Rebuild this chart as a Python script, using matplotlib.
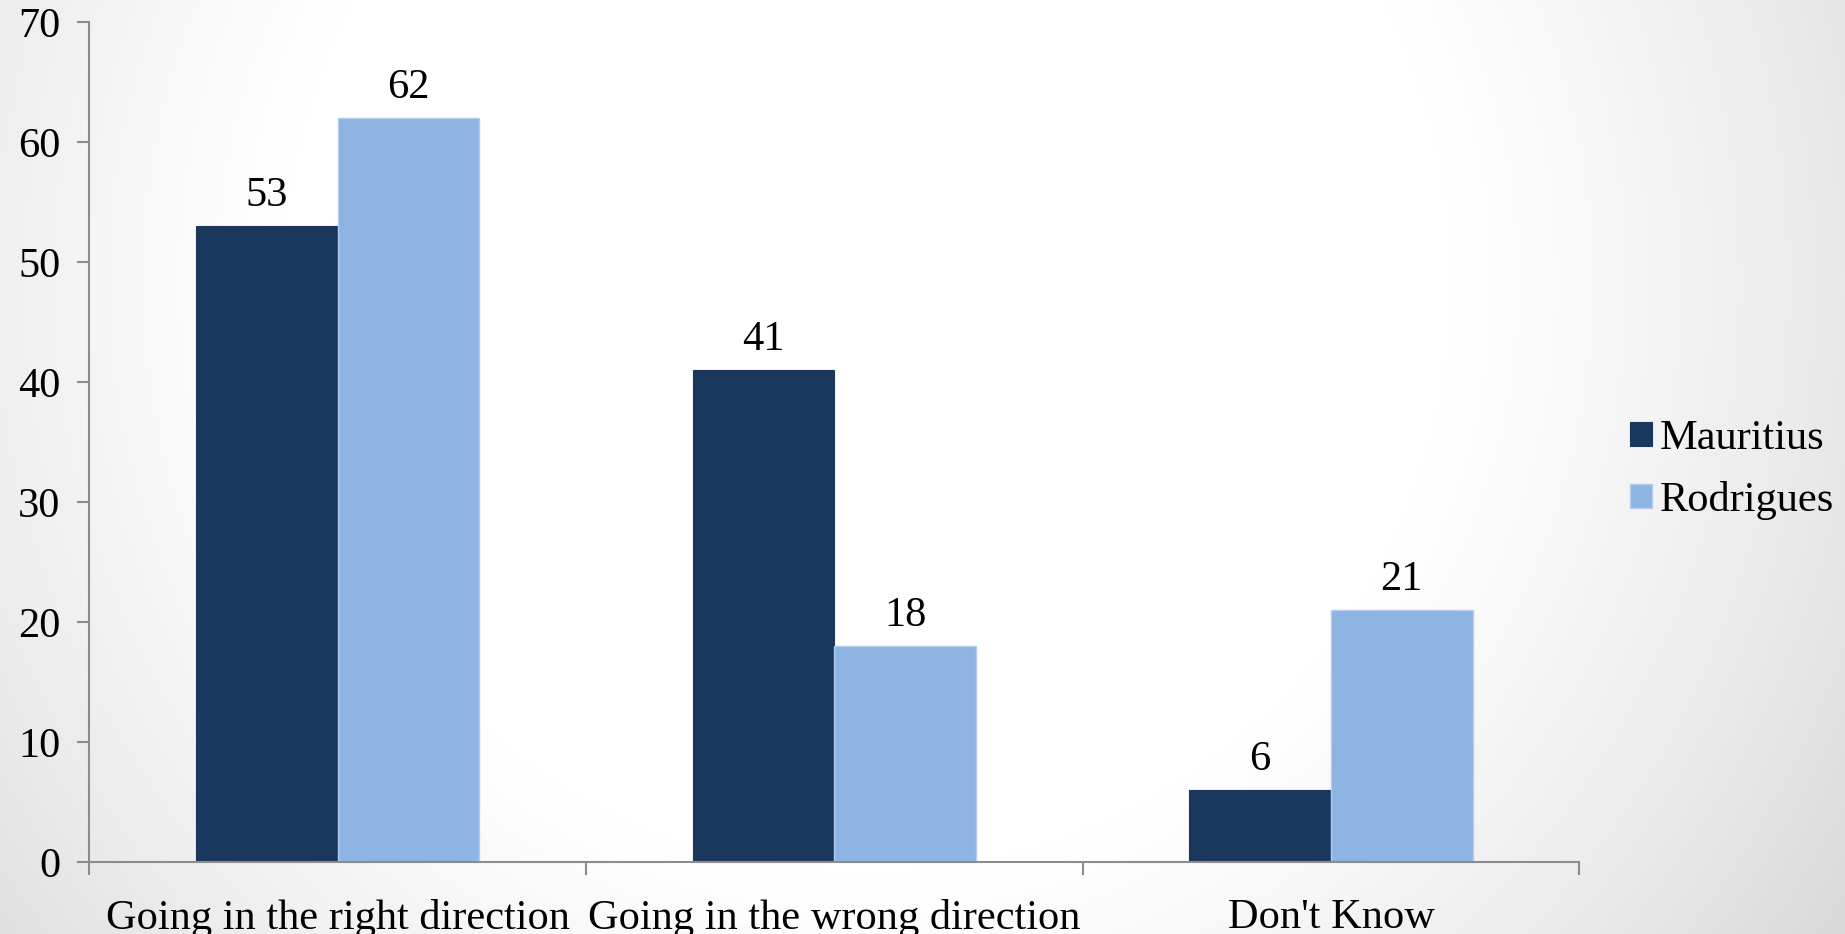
import numpy as np
import matplotlib
matplotlib.use("Agg")
import matplotlib.pyplot as plt
from matplotlib.ticker import FixedLocator, NullFormatter

# Survey responses by island
categories = ["Going in the right direction", "Going in the wrong direction", "Don't Know"]
mauritius = [53, 41, 6]
rodrigues = [62, 18, 21]
series_names = ["Mauritius", "Rodrigues"]
y_ticks = [0, 10, 20, 30, 40, 50, 60, 70]

plt.rcParams["font.family"] = ["Liberation Serif", "DejaVu Serif"]
FS = 30.5

W, H, DPI = 1845, 934, 100
fig = plt.figure(figsize=(W / DPI, H / DPI), dpi=DPI)

# soft radial backdrop: white in the middle, grey towards the side edges
bg = fig.add_axes([0, 0, 1, 1], zorder=-10)
yy, xx = np.mgrid[0:H, 0:W]
cx, cy = 0.47 * W, 0.30 * H
r2 = ((xx - cx) / W) ** 2 + (0.5 * (yy - cy) / H) ** 2
shade = 1.0 - 0.5 * np.clip(r2 - 0.1, 0, None)
bg.imshow(np.dstack([shade] * 3), aspect="auto", extent=[0, 1, 0, 1], origin="upper")
bg.set_axis_off()

ax = fig.add_axes([0.0485, 0.0766, 0.8075, 0.8994])
ax.patch.set_alpha(0)

x = np.arange(len(categories))
bw = 0.285
dark = "#1a375e"
light = "#8eb4e3"
b1 = ax.bar(x - bw / 2, mauritius, bw, color=dark, edgecolor=dark, linewidth=0.8, label=series_names[0])
b2 = ax.bar(x + bw / 2, rodrigues, bw, color=light, edgecolor="#b4cdee", linewidth=1.0, label=series_names[1])

for bars, vals in ((b1, mauritius), (b2, rodrigues)):
    for rect, v in zip(bars, vals):
        ax.annotate(str(v), (rect.get_x() + rect.get_width() / 2, v),
                    xytext=(0, 8), textcoords="offset points",
                    ha="center", va="bottom", fontsize=FS, color="black")

ax.set_xlim(-0.5, len(categories) - 0.5)
ax.set_ylim(0, 70)
ax.set_yticks(y_ticks)
ax.set_yticklabels([str(t) for t in y_ticks])

ax.set_xticks(x)
ax.set_xticklabels(categories)
ax.xaxis.set_minor_locator(FixedLocator(np.arange(-0.5, len(categories), 1.0)))
ax.xaxis.set_minor_formatter(NullFormatter())

axis_grey = "#8c8c8c"
for side in ("top", "right"):
    ax.spines[side].set_visible(False)
for side in ("left", "bottom"):
    ax.spines[side].set_color(axis_grey)
    ax.spines[side].set_linewidth(1.5)

ax.tick_params(axis="y", direction="out", length=9, width=1.5, color=axis_grey,
               labelsize=FS, pad=12)
ax.tick_params(axis="x", which="major", length=0, labelsize=FS, pad=26)
ax.tick_params(axis="x", which="minor", direction="out", length=9, width=1.5, color=axis_grey)

fig.legend(handles=[b1, b2], labels=series_names, loc="center left",
           bbox_to_anchor=(0.8745, 0.497), frameon=False, fontsize=FS,
           handlelength=0.5, handleheight=0.5, handletextpad=0.2, labelspacing=0.55,
           borderaxespad=0)

fig.savefig("out.png", dpi=DPI)
